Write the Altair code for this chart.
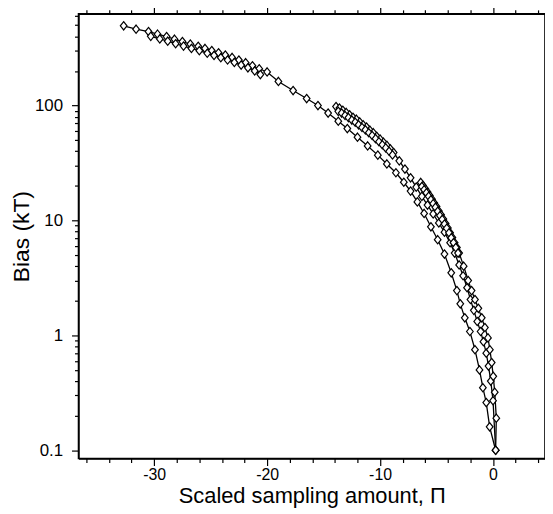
import altair as alt
import pandas as pd

# ---- data ----
# Curve A: long dense run then sparse continuation
A1_x = [-32.7, -31.6, -30.5, -29.7, -28.9, -28.2, -27.5, -26.8, -26.1, -25.5, -24.9, -24.3, -23.7, -23.1,
        -22.5, -21.9, -21.3, -20.7, -20.0,
        -19.0, -17.7, -16.5, -15.5, -14.6, -13.7, -12.9, -12.0, -11.1, -10.2, -9.4, -8.6, -7.9, -7.3,
        -6.7, -6.1, -5.5, -4.9, -4.3, -3.7, -3.2, -2.9, -2.5, -2.05, -1.6, -1.2, -0.9, -0.6, -0.3, 0.23]
A1_y = [494, 462, 440, 418, 398, 378, 360, 343, 328, 314, 301, 288, 275, 262,
        249, 236, 222, 209, 196,
        162, 135, 115, 100, 86, 73, 63, 53, 44.5, 37, 31, 26, 21.5, 18,
        14.5, 11.5, 8.8, 6.8, 5.1, 3.5, 2.45, 1.88, 1.42, 1.08, 0.75, 0.5, 0.35, 0.26, 0.16, 0.1]
A2_x = [-30.3, -29.5, -28.8, -28.1, -27.4, -26.7, -26.0, -25.3, -24.7, -24.1, -23.5, -22.9, -22.3,
        -21.7, -21.1, -20.6]
A2_y = [400, 380, 363, 345, 329, 314, 300, 285, 273, 261, 249, 237, 225, 213, 200, 186]

# Curve B: dense run from about -13.9, then sparse
B1_x = [-13.9, -13.6, -13.3, -13.0, -12.7, -12.4, -12.1, -11.8, -11.5, -11.2, -10.9, -10.6, -10.3,
        -10.0, -9.7, -9.4, -9.1, -8.8,
        -8.3, -7.8, -7.3, -6.8, -6.3, -5.8, -5.3, -4.8, -4.3, -3.8, -3.4, -3.0, -2.65, -2.3, -2.0,
        -1.7, -1.4, -1.1, -0.85, -0.6, -0.4, -0.2, 0.0, 0.23]
B1_y = [98, 95, 91, 87, 83, 79, 76, 72, 68, 65, 61, 58, 54, 51, 48, 45, 42, 39,
        33, 28, 23.5, 19.5, 16.2, 13.6, 11.4, 9.5, 7.9, 6.4, 5.2, 4.1, 3.3, 2.6, 2.05,
        1.65, 1.32, 1.08, 0.88, 0.7, 0.54, 0.4, 0.27, 0.1]
B2_x = [-13.7, -13.4, -13.1, -12.8, -12.5, -12.2, -11.9, -11.6, -11.3, -11.0, -10.7, -10.4, -10.1,
        -9.8, -9.5, -9.2, -8.9]
B2_y = [89, 86, 82, 78.5, 74.7, 71.6, 68, 64.5, 61.4, 58, 54.9, 51.5, 48.4, 45.6, 42.8, 40, 37.2]

# Curve C: dense run from about -6.4, then sparse
C1_x = [-6.4, -6.2, -6.0, -5.8, -5.6, -5.4, -5.2, -5.0, -4.8, -4.6, -4.4, -4.2, -4.0, -3.8, -3.6,
        -3.4, -3.2, -3.0,
        -2.6, -2.2, -1.9, -1.6, -1.3, -1.0, -0.72, -0.45, -0.28, -0.12, 0.02, 0.15, 0.29, 0.23]
C1_y = [21.4, 20.1, 18.9, 17.7, 16.5, 15.3, 14.2, 13.2, 12.1, 11.2, 10.3, 9.4, 8.6, 7.8, 7.1,
        6.4, 5.8, 5.2,
        4.0, 3.0, 2.45, 2.05, 1.72, 1.42, 1.17, 0.95, 0.75, 0.58, 0.44, 0.32, 0.19, 0.1]
C2_x = [-6.3, -6.1, -5.9, -5.7, -5.5, -5.3, -5.1, -4.9, -4.7, -4.5, -4.3, -4.1, -3.9, -3.7, -3.5,
        -3.3, -3.1]
C2_y = [19.7, 18.5, 17.4, 16.2, 15.1, 14.0, 13.0, 12.0, 11.0, 10.2, 9.3, 8.55, 7.8, 7.05, 6.4,
        5.8, 5.2]

# axis ticks
x_ticks = [-36, -34, -32, -30, -28, -26, -24, -22, -20, -18, -16, -14, -12, -10, -8, -6, -4, -2, 0, 2, 4]
x_labels = [-30, -20, -10, 0]
y_ticks = [0.1, 0.2, 0.3, 0.4, 0.5, 0.6, 0.7, 0.8, 0.9,
           1, 2, 3, 4, 5, 6, 7, 8, 9,
           10, 20, 30, 40, 50, 60, 70, 80, 90,
           100, 200, 300, 400, 500, 600]

X_DOMAIN = [-36.7, 4.6]
Y_DOMAIN = [0.0847, 628]

series = [("A1", A1_x, A1_y), ("A2", A2_x, A2_y),
          ("B1", B1_x, B1_y), ("B2", B2_x, B2_y),
          ("C1", C1_x, C1_y), ("C2", C2_x, C2_y)]
rows = []
for name, xs, ys in series:
    for i, (xv, yv) in enumerate(zip(xs, ys)):
        rows.append({"series": name, "order": i, "x": xv, "y": yv})
df = pd.DataFrame(rows)

FONT = "Liberation Sans"
DIAMOND = "M0,-1L0.8,0L0,1L-0.8,0Z"

x_major = "indexof([" + ",".join(str(v) for v in x_labels) + "], datum.value) >= 0"
y_major = "abs(log(datum.value)/LN10 - round(log(datum.value)/LN10)) < 0.000001"

xscale = alt.Scale(domain=X_DOMAIN, nice=False, zero=False)
yscale = alt.Scale(type="log", domain=Y_DOMAIN, nice=False)

x_axis = alt.Axis(values=x_ticks, tickCount=200,
                  labelExpr=f"{x_major} ? toString(datum.value) : ''",
                  tickSize={"condition": {"test": x_major, "value": 7}, "value": 4},
                  title="Scaled sampling amount, Π", grid=False, labelFlush=False,
                  labelOverlap=False, labelBound=False, labelPadding=1, titlePadding=3,
                  labelFontSize=16, titleFontSize=22)
y_axis = alt.Axis(values=y_ticks, tickCount=200,
                  labelExpr=f"{y_major} ? toString(round(datum.value*10)/10) : ''",
                  tickSize={"condition": {"test": y_major, "value": 7}, "value": 4},
                  title="Bias (kT)", grid=False, labelFlush=False, labelOverlap=False,
                  labelPadding=9, titlePadding=1, labelFontSize=17, titleFontSize=23)

x_enc = alt.X("x:Q", scale=xscale, axis=x_axis)
y_enc = alt.Y("y:Q", scale=yscale, axis=y_axis)

base = alt.Chart(df)
lines = base.mark_line(color="black", strokeWidth=1.3).encode(
    x=x_enc, y=y_enc, detail="series:N", order="order:Q")
points = base.mark_point(shape=DIAMOND, filled=True, fill="white", stroke="black",
                         strokeWidth=1.2, size=70, opacity=1).encode(
    x=alt.X("x:Q", scale=xscale), y=alt.Y("y:Q", scale=yscale))
main = alt.layer(lines, points)

frame = base.mark_point(opacity=0).encode(
    x=alt.X("x:Q", scale=xscale,
            axis=alt.Axis(orient="top", values=x_ticks, tickCount=200, labels=False, title=None,
                          grid=False,
                          tickSize={"condition": {"test": x_major, "value": 7}, "value": 4})),
    y=alt.Y("y:Q", scale=yscale,
            axis=alt.Axis(orient="right", values=y_ticks, tickCount=200, labels=False, title=None,
                          grid=False,
                          tickSize={"condition": {"test": y_major, "value": 7}, "value": 4})))

chart = alt.layer(main, frame).resolve_scale(x="independent", y="independent").properties(
    width=470, height=448,
    autosize=alt.AutoSizeParams(type="none"),
    padding={"left": 71, "top": 4, "right": 0, "bottom": 54},
).configure_view(stroke="black", strokeWidth=1.5).configure_axis(
    domainColor="black", domainWidth=1.5, tickColor="black", tickWidth=1.2,
    labelFont=FONT, labelColor="black",
    titleFont=FONT, titleFontWeight="normal", titleColor="black",
)

chart.save("out.html", embed_options={"renderer": "svg", "actions": False})
